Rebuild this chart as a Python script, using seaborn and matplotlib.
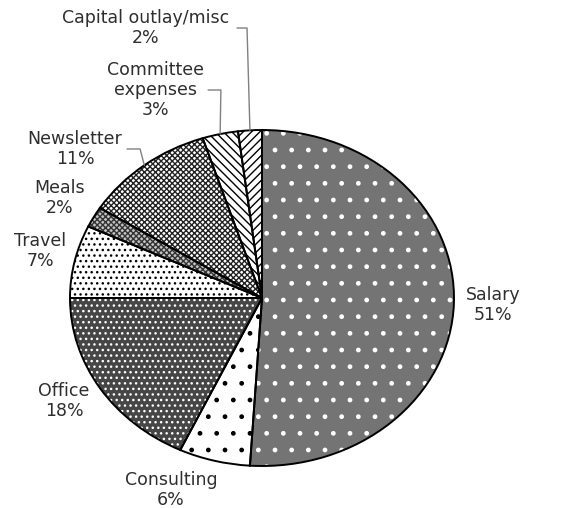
import numpy as np
import seaborn as sns
import matplotlib.pyplot as plt

sns.set_theme(style="white")
plt.rcParams['font.family'] = ['DejaVu Sans']
plt.rcParams['hatch.linewidth'] = 1.0

# budget shares (%), clockwise from 12 o'clock
categories = ["Salary", "Consulting", "Office", "Travel", "Meals",
              "Newsletter", "Committee\nexpenses", "Capital outlay/misc"]
shares = [51, 6, 18, 7, 2, 11, 3, 2]

fills = ["#747474", "white", "#464646", "white", "#c4c4c4", "white", "white", "white"]
hatches = [".", ".", "...", "...", "xxxxxx", "xxxxxx", "\\\\\\\\", "////"]
hatch_colors = ["white", "black", "white", "black", "#333333", "#222222", "black", "black"]

# label centres (data units of the stretched pie) and optional leader elbows
label_pos = [(1.203, -0.04), (-0.474, -1.143), (-1.031, -0.613), (-1.156, 0.28),
             (-1.052, 0.595), (-0.974, 0.887), (-0.557, 1.238), (-0.604, 1.607)]
leaders = {5: [(-0.703, 0.887), (-0.635, 0.887)],
           6: [(-0.281, 1.238), (-0.214, 1.238)],
           7: [(-0.13, 1.607), (-0.078, 1.607)]}

fig = plt.figure(figsize=(5.61, 5.08), dpi=100)
ax = fig.add_axes([70 / 561, 42 / 508, 384 / 561, 336 / 508])

wedges, _ = ax.pie(shares, startangle=90, counterclock=False, colors=fills,
                   wedgeprops=dict(linewidth=0))
overlay, _ = ax.pie(shares, startangle=90, counterclock=False,
                    wedgeprops=dict(fill=False, linewidth=0))
for w, h, hc in zip(overlay, hatches, hatch_colors):
    w.set_hatch(h)
    w.set_edgecolor(hc)
    w.set_clip_on(False)
    w.set_zorder(2)
for w in wedges:
    w.set_clip_on(False)
    w.set_zorder(1)
    # outline on top of the hatching
    outline = plt.matplotlib.patches.Wedge(w.center, w.r, w.theta1, w.theta2,
                                           fill=False, edgecolor="black",
                                           linewidth=1.4, zorder=3, clip_on=False)
    ax.add_patch(outline)

ax.set_aspect("auto")
ax.set_xlim(-1, 1)
ax.set_ylim(-1, 1)
ax.axis("off")

for i, (cat, val) in enumerate(zip(categories, shares)):
    lx, ly = label_pos[i]
    ax.text(lx, ly, f"{cat}\n{val}%", ha="center", va="center", fontsize=12.5,
            color="#2e2e2e", linespacing=1.15, clip_on=False)
    if i in leaders:
        w = wedges[i]
        mid = np.deg2rad((w.theta1 + w.theta2) / 2)
        pts = leaders[i] + [(np.cos(mid), np.sin(mid))]
        xs, ys = zip(*pts)
        ax.plot(xs, ys, color="#808080", linewidth=1.0, clip_on=False, zorder=4)

fig.savefig("out.png", dpi=100)
